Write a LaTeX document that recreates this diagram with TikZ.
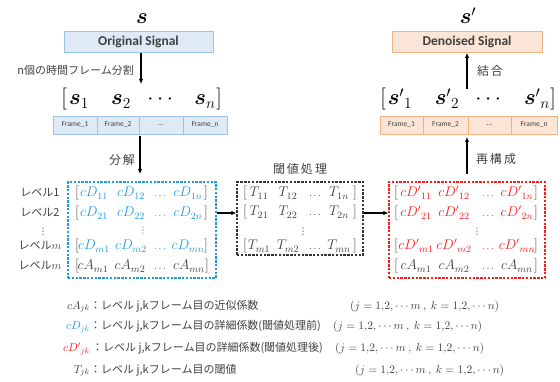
\documentclass[tikz,border=0pt]{standalone}
\usepackage{fix-cm}
\usepackage{amsmath,bm}
\usepackage{fontspec}
\setmainfont{Carlito}
\newfontfamily\jp{Noto Sans CJK JP}
\newfontfamily\dv{DejaVu Sans}
\usetikzlibrary{arrows.meta}
\definecolor{tgray}{HTML}{404040}
\definecolor{bfill}{HTML}{DEEBF7}
\definecolor{bline}{HTML}{9DC3E6}
\definecolor{ofill}{HTML}{FBE5D6}
\definecolor{oline}{HTML}{F4B183}
\definecolor{cblue}{HTML}{1E9BE0}
\definecolor{cred}{HTML}{FF1A1A}
\newcommand{\mdots}{{\fontsize{10}{12}\selectfont$\ldots$}}
\tikzset{
 arr/.style={line width=1.3pt, -{Latex[length=5pt,width=4.5pt]}},
 sigbox/.style={draw, line width=0.8pt, inner sep=0pt, minimum height=21pt, font=\bfseries\fontsize{13.5}{15}\selectfont, text=tgray},
 framecell/.style={draw, line width=0.8pt, inner sep=0pt, minimum height=18pt, font=\fontsize{7.5}{9}\selectfont, text=tgray},
 dbox/.style={draw, dash pattern=on 2.4pt off 1.4pt, line width=1.2pt, inner sep=0pt},
 ent/.style={font=\fontsize{14}{16}\selectfont, text=tgray, anchor=base, inner sep=0pt},
 vd/.style={font=\dv\fontsize{9}{10}\selectfont, inner sep=0pt},
 jlab/.style={font=\jp\fontsize{11}{13}\selectfont, text=tgray, inner sep=0pt},
 big/.style={font=\fontsize{22}{26}\selectfont, text=black, anchor=base, inner sep=0pt},
 leg/.style={font=\fontsize{11.5}{13}\selectfont, text=tgray, inner sep=0pt, anchor=base},
}
\begin{document}
\begin{tikzpicture}[x=1pt,y=-1pt]
\useasboundingbox (0,0) rectangle (560,382);

% ---------- top signals ----------
\node[big] (stop) at (142,24) {$\bm{s}$};
\node[big] (sptop) at (468,24) {$\bm{s}'$};
\node[sigbox, fill=bfill, draw=bline, minimum width=149pt] (orig) at (138.5,42) {Original Signal};
\node[sigbox, fill=ofill, draw=oline, minimum width=150pt] (deno) at (467,42) {Denoised Signal};

% ---------- vectors ----------
\node[big] (lb) at (64,105) {$[$};
\node[big] (ls1) at (79,105) {$\bm{s}_1$};
\node[big] (ls2) at (121,105) {$\bm{s}_2$};
\node[big] (lsd) at (162,105) {$\cdots$};
\node[big] (lsn) at (205,105) {$\bm{s}_n$};
\node[big] (lr) at (219,105) {$]$};

\node[big] (rb) at (383,105) {$[$};
\node[big] (rs1) at (400,105) {$\bm{s}'{}_1$};
\node[big] (rs2) at (447,105) {$\bm{s}'{}_2$};
\node[big] (rsd) at (490,105) {$\cdots$};
\node[big] (rsn) at (537,105) {$\bm{s}'{}_n$};
\node[big] (rr) at (553,105) {$]$};

% ---------- frames ----------
\node[framecell, fill=bfill, draw=bline, minimum width=44pt] (lf1) at (75,125) {Frame\_1};
\node[framecell, fill=bfill, draw=bline, minimum width=42pt] (lf2) at (118,125) {Frame\_2};
\node[framecell, fill=bfill, draw=bline, minimum width=44pt] (lf3) at (161,125) {\dots};
\node[framecell, fill=bfill, draw=bline, minimum width=44pt] (lf4) at (205,125) {Frame\_n};

\node[framecell, fill=ofill, draw=oline, minimum width=43pt] (rf1) at (401.5,125) {Frame\_1};
\node[framecell, fill=ofill, draw=oline, minimum width=45pt] (rf2) at (445.5,125) {Frame\_2};
\node[framecell, fill=ofill, draw=oline, minimum width=43pt] (rf3) at (489.5,125) {\dots};
\node[framecell, fill=ofill, draw=oline, minimum width=46pt] (rf4) at (534,125) {Frame\_n};

% ---------- dashed boxes ----------
\node[dbox, draw=cblue, minimum width=148pt, minimum height=96pt] (bbox) at (142,230) {};
\node[dbox, draw=black!80, minimum width=126pt, minimum height=73pt] (kbox) at (300,218.5) {};
\node[dbox, draw=cred, minimum width=156pt, minimum height=96pt] (rbox) at (467,230) {};

% ---------- blue matrix ----------
\foreach \n/\y/\q in {1/197/1, 2/217/2, 3/250/m} {
  \node[ent] (bl\n) at (77,\y) {$[$};
  \node[ent, text=cblue] (ba\n) at (94,\y) {$cD_{\q 1}$};
  \node[ent, text=cblue] (bb\n) at (131,\y) {$cD_{\q 2}$};
  \node[ent, text=cblue] (bc\n) at (160,\y) {\mdots};
  \node[ent, text=cblue] (bd\n) at (188,\y) {$cD_{\q n}$};
  \node[ent] (br\n) at (206,\y) {$]$};
}
\node[ent] (bl4) at (77,270) {$[$};
\node[ent] (ba4) at (93,270) {$cA_{m1}$};
\node[ent] (bb4) at (130,270) {$cA_{m2}$};
\node[ent] (bc4) at (160,270) {\mdots};
\node[ent] (bd4) at (189,270) {$cA_{mn}$};
\node[ent] (br4) at (207,270) {$]$};
\node[vd, text=cblue] (bvd) at (143,231) {⋮};

% ---------- threshold matrix ----------
\foreach \n/\y/\q in {1/197/1, 2/216/2, 3/250/m} {
  \node[ent] (kl\n) at (245,\y) {$[$};
  \node[ent] (ka\n) at (259,\y) {$T_{\q 1}$};
  \node[ent] (kb\n) at (288,\y) {$T_{\q 2}$};
  \node[ent] (kc\n) at (315,\y) {\mdots};
  \node[ent] (kd\n) at (339,\y) {$T_{\q n}$};
  \node[ent] (kr\n) at (355,\y) {$]$};
}
\node[vd, text=tgray] (kvd) at (303,232) {⋮};

% ---------- red matrix ----------
\foreach \n/\y/\q in {1/197/1, 2/217/2, 3/250/m} {
  \node[ent] (rl\n) at (396,\y) {$[$};
  \node[ent, text=cred] (ra\n) at (416,\y) {$cD'{}_{\q 1}$};
  \node[ent, text=cred] (rb\n) at (454,\y) {$cD'{}_{\q 2}$};
  \node[ent, text=cred] (rc\n) at (488,\y) {\mdots};
  \node[ent, text=cred] (rd\n) at (517,\y) {$cD'{}_{\q n}$};
  \node[ent] (rr\n) at (536,\y) {$]$};
}
\node[ent] (rl4) at (396,270) {$[$};
\node[ent] (ra4) at (416,270) {$cA_{m1}$};
\node[ent] (rb4) at (454,270) {$cA_{m2}$};
\node[ent] (rc4) at (488,270) {\mdots};
\node[ent] (rd4) at (517,270) {$cA_{mn}$};
\node[ent] (rr4) at (536,270) {$]$};
\node[vd, text=cred] (rvd) at (477,232) {⋮};

% ---------- level labels ----------
\node[jlab, anchor=base] (lv1) at (40,197) {レベル1};
\node[jlab, anchor=base] (lv2) at (40,217) {レベル2};
\node[vd, text=tgray] (lvd) at (43,232) {⋮};
\node[jlab, anchor=base] (lvm) at (40,250) {レベル$m$};
\node[jlab, anchor=base] (lvm2) at (40,270) {レベル$m$};

% ---------- arrows ----------
\coordinate (a1) at (141,84);
\draw[arr] (a1 |- orig.south) -- (a1);
\node[jlab, anchor=base east] (t1) at (134,75) {n個の時間フレーム分割};

\coordinate (a2s) at (140,136);
\coordinate (a2e) at (140,174);
\draw[arr] (a2s) -- (a2e);
\node[jlab, font=\jp\fontsize{12}{14}\selectfont, anchor=base] (t2) at (122,165) {分\hspace{2pt}解};

\coordinate (m1) at (216,213);
\draw[arr] (m1 -| bbox.east) -- (m1 -| kbox.west);
\draw[arr] (m1 -| kbox.east) -- (m1 -| rbox.west);
\node[jlab, font=\jp\fontsize{12}{14}\selectfont, anchor=base] (t3) at (300,174) {閾\hspace{2pt}値\hspace{2pt}処\hspace{2pt}理};

\coordinate (a3s) at (467,174);
\coordinate (a3e) at (467,137);
\draw[arr] (a3s) -- (a3e);
\node[jlab, font=\jp\fontsize{12}{14}\selectfont, anchor=base] (t4) at (496,164) {再\hspace{2pt}構\hspace{2pt}成};

\coordinate (a4) at (467,89);
\draw[arr] (a4) -- (a4 |- deno.south);
\node[jlab, font=\jp\fontsize{12}{14}\selectfont, anchor=base] (t5) at (490,76) {結\hspace{2pt}合};

% ---------- legend ----------
\node[leg, anchor=base east] (g1) at (90,309) {$cA_{jk}$};
\node[leg, anchor=base east, text=cblue] (g2) at (90,330) {$cD_{jk}$};
\node[leg, anchor=base east, text=cred] (g3) at (90,352) {$cD'{}_{jk}$};
\node[leg, anchor=base east] (g4) at (90,373) {$T_{jk}$};

\node[jlab, anchor=base west] (h1) at (90,309) {：レベル j,kフレーム目の近似係数};
\node[jlab, anchor=base west] (h2) at (90,330) {：レベル j,kフレーム目の詳細係数(閾値処理前)};
\node[jlab, anchor=base west] (h3) at (92,352) {：レベル j,kフレーム目の詳細係数(閾値処理後)};
\node[jlab, anchor=base west] (h4) at (90,373) {：レベル j,kフレーム目の閾値};

\node[leg, anchor=base west] (p1) at (350,309) {$(j = 1{,}2,\cdots m\ ,\ k = 1{,}2,\cdots n)$};
\node[leg, anchor=base west] (p2) at (333,330) {$(j = 1{,}2,\cdots m\ ,\ k = 1{,}2,\cdots n)$};
\node[leg, anchor=base west] (p3) at (335,352) {$(j = 1{,}2,\cdots m\ ,\ k = 1{,}2,\cdots n)$};
\node[leg, anchor=base west] (p4) at (355,373) {$(j = 1{,}2,\cdots m\ ,\ k = 1{,}2,\cdots n)$};
\end{tikzpicture}
\end{document}
